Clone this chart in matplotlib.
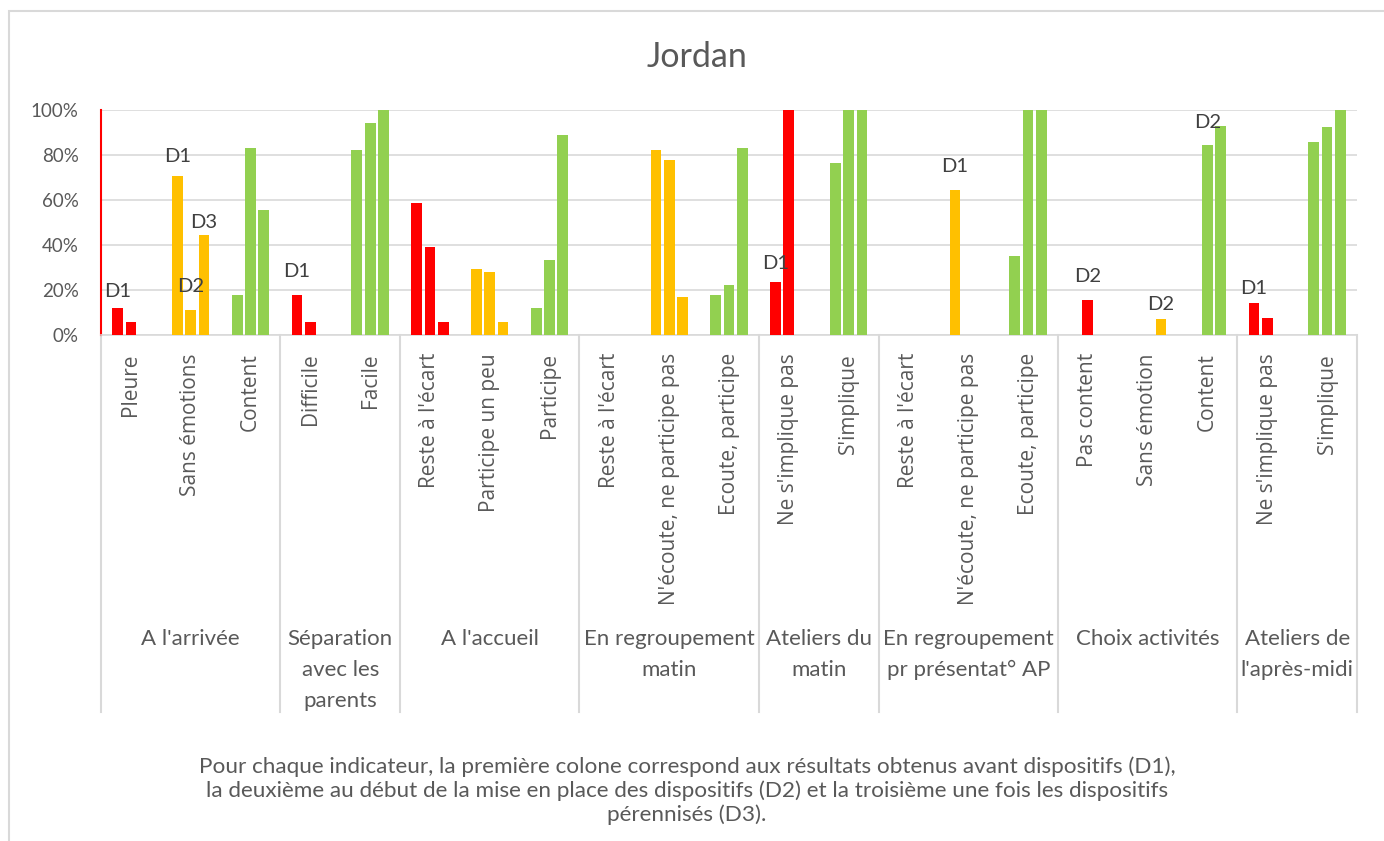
import matplotlib.pyplot as plt
import numpy as np
from matplotlib.patches import Rectangle

# Sub-categories (indicators), grouped by moment of the day
groups = ["A l'arrivée", "Séparation\navec les\nparents", "A l'accueil",
          "En regroupement\nmatin", "Ateliers du\nmatin",
          "En regroupement\npr présentat° AP", "Choix activités",
          "Ateliers de\nl'après-midi"]
group_sizes = [3, 2, 3, 3, 2, 3, 3, 2]

indicators = ["Pleure", "Sans émotions", "Content",
              "Difficile", "Facile",
              "Reste à l'écart", "Participe un peu", "Participe",
              "Reste à l'écart", "N'écoute, ne participe pas", "Ecoute, participe",
              "Ne s'implique pas", "S'implique",
              "Reste à l'écart", "N'écoute, ne participe pas", "Ecoute, participe",
              "Pas content", "Sans émotion", "Content",
              "Ne s'implique pas", "S'implique"]

# colour level of each indicator: 0 = negative, 1 = neutral, 2 = positive
levels = [0, 1, 2, 0, 2, 0, 1, 2, 0, 1, 2, 0, 2, 0, 1, 2, 0, 1, 2, 0, 2]

d1 = [11.8, 70.6, 17.6, 17.6, 82.4, 58.8, 29.4, 11.8, 0, 82.4, 17.6,
      23.5, 76.5, 0, 64.3, 35.3, 0, 0, 0, 14.3, 85.7]
d2 = [5.9, 11.1, 83.3, 5.6, 94.4, 38.9, 27.8, 33.3, 0, 77.8, 22.2,
      100, 100, 0, 0, 100, 15.4, 0, 84.6, 7.7, 92.3]
d3 = [0, 44.4, 55.6, 0, 100, 5.6, 5.6, 88.9, 0, 16.7, 83.3,
      0, 100, 0, 0, 100, 0, 7.1, 92.9, 0, 100]

# hand-placed "Dx" notes: (indicator index, series index, text, height in %)
note_idx = [0, 1, 1, 1, 3, 11, 14, 16, 17, 18, 19]
note_ser = [0, 0, 1, 2, 0, 0, 0, 1, 2, 1, 0]
note_txt = ["D1", "D1", "D2", "D3", "D1", "D1", "D1", "D2", "D2", "D2", "D1"]
note_y = [19.3, 79.4, 21.6, 50.1, 28.3, 31.6, 75.1, 26.1, 13.5, 94.4, 20.5]

palette = ["#FF0000", "#FFC000", "#92D050"]
grey = "#595959"
FONT = "Lato"

fig = plt.figure(figsize=(13.84, 8.41), dpi=100)
fig.patches.append(Rectangle((9 / 1384, -0.1), 1.2, (841 - 11) / 841 + 0.1,
                             transform=fig.transFigure, fill=False,
                             edgecolor="#d9d9d9", linewidth=1.5))
ax = fig.add_axes([101 / 1384, (841 - 335) / 841, 1256 / 1384, 225 / 841])

x = np.arange(len(indicators))
step = 0.222
width = 0.18
cols = [palette[l] for l in levels]
for k, vals in enumerate([d1, d2, d3]):
    ax.bar(x + (k - 1) * step, vals, width, color=cols, zorder=3)

ax.set_xlim(-0.5, len(indicators) - 0.5)
ax.set_ylim(0, 100)
ax.set_yticks(np.arange(0, 101, 20))
ax.set_yticklabels([f"{v}%" for v in range(0, 101, 20)], fontsize=13.5,
                   color=grey, family=FONT)
ax.tick_params(axis="y", length=0, pad=16)
ax.set_xticks([])
ax.grid(axis="y", color="#d9d9d9", linewidth=1.2, zorder=0)
for s in ["top", "right"]:
    ax.spines[s].set_visible(False)
ax.spines["left"].set_color("red")
ax.spines["left"].set_linewidth(1.5)
ax.spines["bottom"].set_color("#d9d9d9")
ax.spines["bottom"].set_linewidth(1.2)

# indicator labels (rotated)
for xi, lab in zip(x, indicators):
    ax.annotate(lab, xy=(xi, 0), xycoords=("data", "axes fraction"),
                xytext=(0, -13), textcoords="offset points",
                rotation=90, ha="center", va="top", fontsize=15,
                color=grey, family="Open Sans")

# group labels and separators
bounds = np.concatenate([[0], np.cumsum(group_sizes)]) - 0.5
for b in bounds:
    ax.plot([b, b], [0, -1.676], transform=ax.get_xaxis_transform(),
            color="#d9d9d9", linewidth=1.5, clip_on=False, zorder=1)
for g, lab in enumerate(groups):
    cx = (bounds[g] + bounds[g + 1]) / 2
    ax.annotate(lab, xy=(cx, 0), xycoords=("data", "axes fraction"),
                xytext=(0, -211.5), textcoords="offset points",
                ha="center", va="top", fontsize=16, color=grey,
                family=FONT, linespacing=1.7, multialignment="center")

# Dx notes
for i, s, t, yv in zip(note_idx, note_ser, note_txt, note_y):
    ax.text(x[i] + (s - 1) * step, yv, t, ha="center", va="center",
            fontsize=14.5, color="#404040", family=FONT, zorder=4)

fig.text(697 / 1384, 1 - 57 / 841, "Jordan", ha="center", va="center",
         fontsize=24.5, color=grey, family=FONT)
fig.text(687 / 1384, 1 - 791 / 841,
         "Pour chaque indicateur, la première colone correspond aux résultats obtenus avant dispositifs (D1),\n"
         "la deuxième au début de la mise en place des dispositifs (D2) et la troisième une fois les dispositifs\n"
         "pérennisés (D3).",
         ha="center", va="center", fontsize=16.2, color=grey, family=FONT,
         linespacing=1.2)

fig.savefig("out.png", dpi=100)
